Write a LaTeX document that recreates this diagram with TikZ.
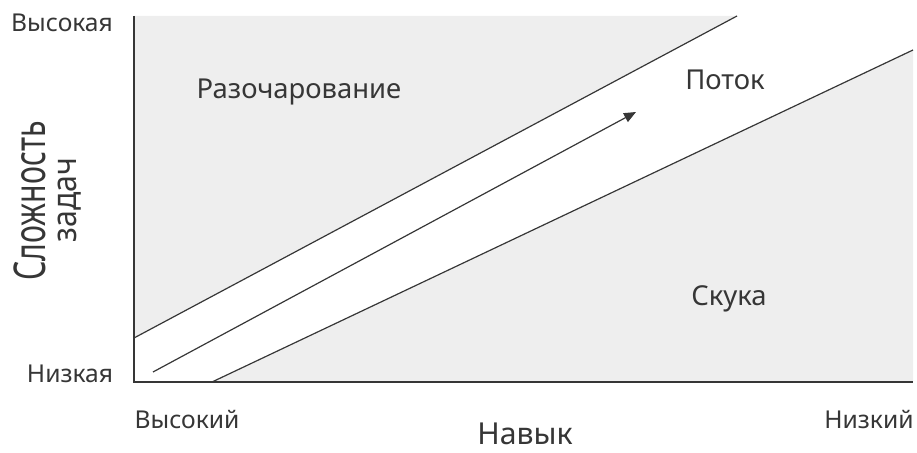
\documentclass[tikz,border=0pt]{standalone}
\usepackage{fontspec}
\usepackage{graphicx}
\setmainfont{Noto Sans}
\usetikzlibrary{arrows.meta}
\definecolor{zonefill}{HTML}{EEEEEE}
\definecolor{inkgray}{HTML}{363636}
\tikzset{
  zone/.style={fill=zonefill},
  rule/.style={draw=inkgray, line width=0.85pt},
  flow/.style={draw=inkgray, line width=0.85pt, -{Triangle[length=8.5pt,width=7pt]}},
  tick/.style={text=inkgray, inner sep=0pt, anchor=base, font=\fontsize{17.5}{19}\selectfont},
  zonename/.style={text=inkgray, inner sep=0pt, anchor=base, font=\fontsize{19.5}{21}\selectfont},
  axisname/.style={text=inkgray, inner sep=0pt, anchor=base, font=\fontsize{21.5}{24}\selectfont}
}
% tall letters for the rotated title
\newcommand{\tallbox}[2]{\scalebox{1}[#1]{#2}}
\begin{document}
\begin{tikzpicture}[x=0.025cm, y=-0.025cm]
  \useasboundingbox (0,0) rectangle (917,453);

  % frame and band corners
  \coordinate (o)     at (134,382);
  \coordinate (ytop)  at (134,16);
  \coordinate (xend)  at (913,382);
  \coordinate (hiA)   at (134,338);
  \coordinate (hiB)   at (737,16);
  \coordinate (loA)   at (212,382);
  \coordinate (loB)   at (913,50);
  \coordinate (flowA) at (153,372);
  \coordinate (flowB) at (636,112);

  % shaded zones
  \fill[zone] (hiA) -- (hiB) -- (ytop) -- cycle;
  \fill[zone] (loA) -- (loB) -- (xend) -- cycle;

  % axes and band edges
  \draw[rule] (ytop) -- (o) -- (xend);
  \draw[rule] (hiA) -- (hiB);
  \draw[rule] (loA) -- (loB);
  \draw[flow] (flowA) -- (flowB);

  % zone names
  \node[zonename] (frust) at (299,99)  {Разочарование};
  \node[zonename] (potok) at (725,90)  {Поток};
  \node[zonename] (skuka) at (729,305) {Скука};

  % axis ends
  \node[tick] (yhi) at (62,32)   {Высокая};
  \node[tick] (ylo) at (70,382)  {Низкая};
  \node[tick] (xhi) at (187,428) {Высокий};
  \node[tick] (xlo) at (869,428) {Низкий};

  % axis titles
  \node[axisname] (xname) at (525,444) {Навык};
  \node[axisname, rotate=90] (yname) at (45,201) {\tallbox{1.45}{Сложность}};
  \node[axisname, rotate=90] (yname2) at (76,200) {\tallbox{1.12}{задач}};
\end{tikzpicture}
\end{document}
